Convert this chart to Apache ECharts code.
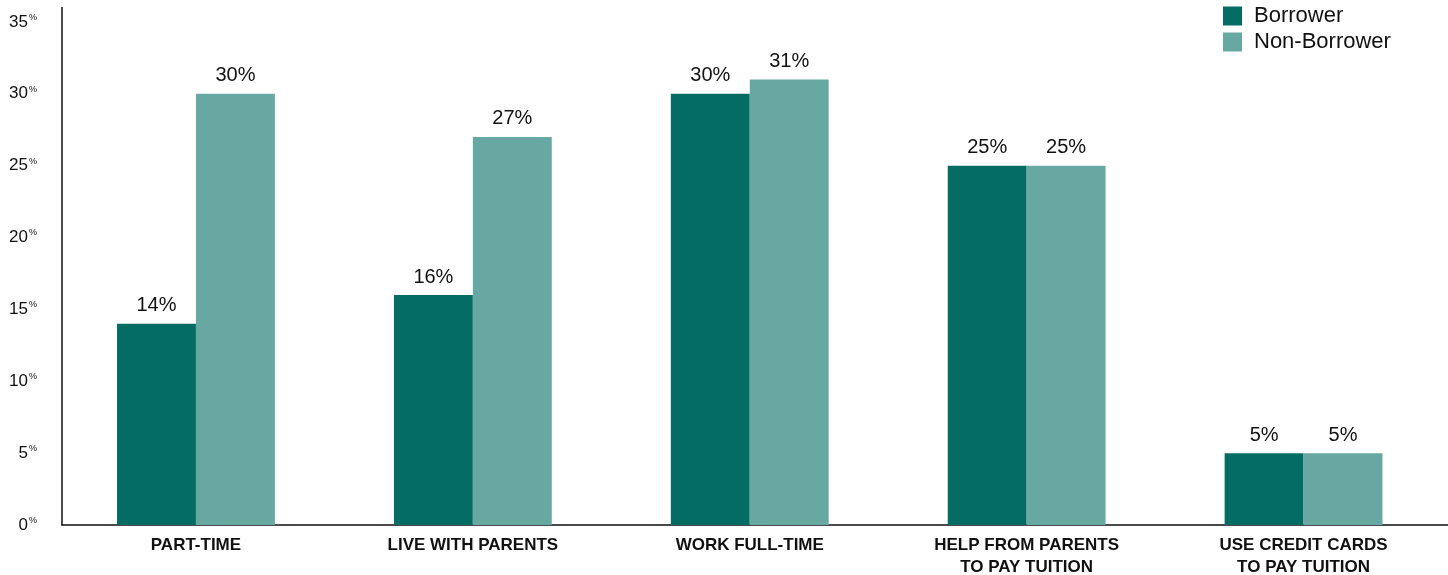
<!DOCTYPE html>
<html>
<head>
<meta charset="utf-8">
<script src="https://cdn.jsdelivr.net/npm/echarts@6/dist/echarts.min.js"></script>
<style>
  html, body { margin: 0; padding: 0; background: #fff; }
  #chart { width: 1448px; height: 575px; }
</style>
</head>
<body>
<div id="chart"></div>
<script>
// Category names (two-line labels use \n)
const categories = [
  'PART-TIME',
  'LIVE WITH PARENTS',
  'WORK FULL-TIME',
  'HELP FROM PARENTS\nTO PAY TUITION',
  'USE CREDIT CARDS\nTO PAY TUITION'
];
// Share of respondents, in percent
const borrower = [14, 16, 30, 25, 5];
const nonBorrower = [30, 27, 31, 25, 5];
const yTicks = [0, 5, 10, 15, 20, 25, 30, 35];

const FONT = '"Liberation Sans", Arial, Helvetica, sans-serif';
const DARK = '#046c62';
const LIGHT = '#67a8a2';
const Y_MAX = 36;

const chart = echarts.init(document.getElementById('chart'), null, { renderer: 'canvas' });

const valueLabel = {
  show: true,
  position: 'top',
  distance: 8,
  formatter: p => p.value + '%',
  color: '#111',
  fontFamily: FONT,
  fontSize: 20
};

chart.setOption({
  animation: false,
  backgroundColor: '#fff',
  grid: [
    // plotting area for the bars
    { left: 57.5, right: 6, top: 7.5, bottom: 50, outerBoundsMode: 'none' },
    // frame: axis lines and percentage labels
    { left: 62, right: 0, top: 7.5, bottom: 50, outerBoundsMode: 'none' }
  ],
  legend: {
    orient: 'vertical',
    left: 1218,
    top: 0,
    itemWidth: 19,
    itemHeight: 19,
    itemGap: 4,
    icon: 'rect',
    textStyle: { fontFamily: FONT, fontSize: 22, color: '#111', padding: [0, 0, 0, 7] },
    data: ['Borrower', 'Non-Borrower']
  },
  xAxis: [
    {
      gridIndex: 0,
      type: 'category',
      data: categories,
      axisLine: { show: false },
      axisTick: { show: false },
      axisLabel: {
        interval: 0,
        margin: 9,
        color: '#111',
        fontFamily: FONT,
        fontWeight: 'bold',
        fontSize: 17,
        lineHeight: 22
      }
    },
    {
      gridIndex: 1,
      type: 'value',
      min: 0,
      max: 1,
      axisLine: { show: true, lineStyle: { color: '#111', width: 1.5 } },
      axisTick: { show: false },
      axisLabel: { show: false },
      splitLine: { show: false }
    }
  ],
  yAxis: [
    {
      gridIndex: 0,
      type: 'value',
      min: 0,
      max: Y_MAX,
      show: false
    },
    {
      gridIndex: 1,
      type: 'value',
      min: 0,
      max: Y_MAX,
      interval: 5,
      splitLine: { show: false },
      axisTick: { show: false },
      axisLine: { show: true, lineStyle: { color: '#111', width: 1.5 } },
      axisLabel: {
        margin: 25,
        formatter: v => (yTicks.indexOf(v) >= 0 ? '{n|' + v + '}{p|%}' : ''),
        rich: {
          n: { fontFamily: FONT, fontSize: 17, color: '#111' },
          p: { fontFamily: FONT, fontSize: 9, color: '#111', padding: [0, 0, 9, 1] }
        }
      }
    }
  ],
  series: [
    {
      name: 'Borrower',
      type: 'bar',
      xAxisIndex: 0,
      yAxisIndex: 0,
      data: borrower,
      barGap: '0%',
      barCategoryGap: '43%',
      itemStyle: { color: DARK },
      label: valueLabel
    },
    {
      name: 'Non-Borrower',
      type: 'bar',
      xAxisIndex: 0,
      yAxisIndex: 0,
      data: nonBorrower,
      barGap: '0%',
      barCategoryGap: '43%',
      itemStyle: { color: LIGHT },
      label: valueLabel
    }
  ]
});
</script>
</body>
</html>
